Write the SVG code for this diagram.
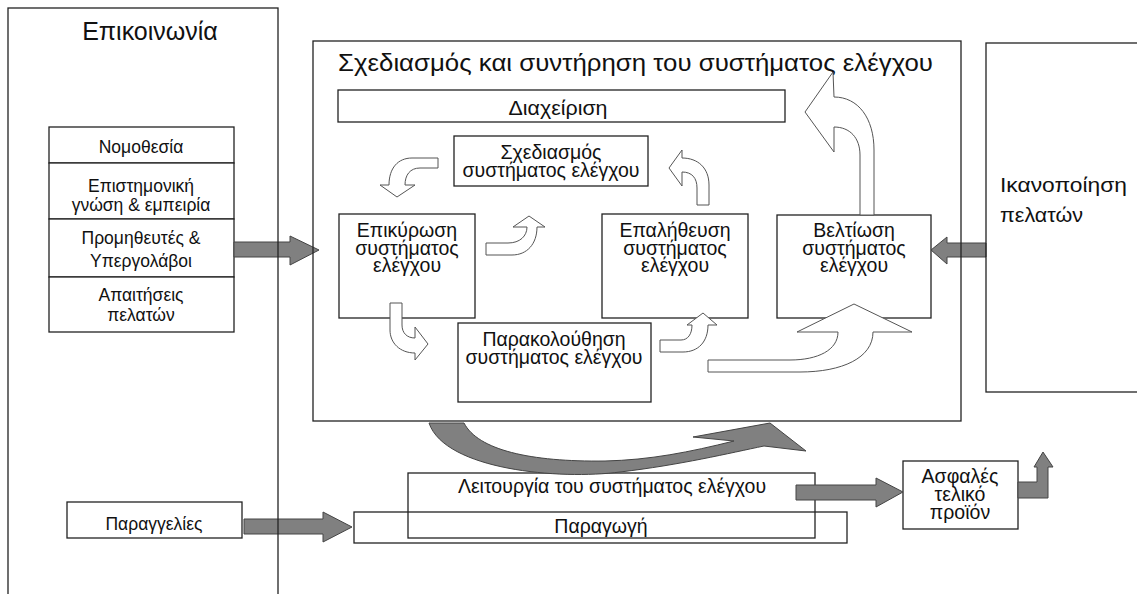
<svg xmlns="http://www.w3.org/2000/svg" width="1137" height="594" viewBox="0 0 1137 594">
  <style>
    text { font-family: "Liberation Sans", Arial, sans-serif; fill: #111; }
    .box { fill: #fff; stroke: #222; stroke-width: 1.3; }
    .frame { fill: none; stroke: #222; stroke-width: 1.3; }
    .c { text-anchor: middle; }
    .t17 { font-size: 17.5px; }
    .t19 { font-size: 19.5px; }
    .warrow { fill: #fff; stroke: #555; stroke-width: 1; stroke-linejoin: miter; }
    .garrow { fill: #808080; stroke: #444; stroke-width: 1; stroke-linejoin: miter; }
  </style>

  <rect width="1137" height="594" fill="#fff"/>

  <!-- left panel: communication -->
  <g id="communication">
    <text x="150" y="40" class="c" font-size="25">Επικοινωνία</text>
  </g>

  <g id="inputs">
    <rect class="box" x="49" y="127" width="185" height="36"/>
    <text x="141" y="153" class="c t17">Νομοθεσία</text>
    <rect class="box" x="49" y="163" width="185" height="56"/>
    <text x="141" y="192" class="c t17">Επιστημονική</text>
    <text x="141" y="211" class="c t17">γνώση &amp; εμπειρία</text>
    <rect class="box" x="49" y="219" width="185" height="58"/>
    <text x="141" y="244" class="c t17">Προμηθευτές &amp;</text>
    <text x="141" y="267" class="c t17">Υπεργολάβοι</text>
    <rect class="box" x="49" y="277" width="185" height="55"/>
    <text x="141" y="301" class="c t17">Απαιτήσεις</text>
    <text x="141" y="321" class="c t17">πελατών</text>
  </g>

  <g id="orders">
    <rect class="box" x="67" y="502" width="175" height="36"/>
    <text x="154" y="530" class="c t17">Παραγγελίες</text>
  </g>

  <!-- central process -->
  <g id="design-maintenance">
    <text x="338" y="71" font-size="23" textLength="595" lengthAdjust="spacingAndGlyphs">Σχεδιασμός και συντήρηση του συστήματος ελέγχου</text>
  </g>

  <g id="management">
    <rect class="box" x="338" y="90" width="447" height="32"/>
    <text x="558" y="115" class="c" font-size="19.5" textLength="99" lengthAdjust="spacingAndGlyphs">Διαχείριση</text>
  </g>

  <g id="design">
    <rect class="box" x="454" y="136" width="194" height="50"/>
    <text x="551" y="159" class="c t19">Σχεδιασμός</text>
    <text x="551" y="177" class="c t19">συστήματος ελέγχου</text>
  </g>

  <g id="validation">
    <rect class="box" x="339" y="214" width="136" height="104"/>
    <text x="407" y="237" class="c t19">Επικύρωση</text>
    <text x="407" y="255" class="c t19">συστήματος</text>
    <text x="407" y="272" class="c t19">ελέγχου</text>
  </g>

  <g id="verification">
    <rect class="box" x="602" y="214" width="146" height="104"/>
    <text x="675" y="237" class="c t19">Επαλήθευση</text>
    <text x="675" y="255" class="c t19">συστήματος</text>
    <text x="675" y="272" class="c t19">ελέγχου</text>
  </g>

  <g id="monitoring">
    <rect class="box" x="458" y="323" width="193" height="79"/>
    <text x="554" y="346" class="c t19">Παρακολούθηση</text>
    <text x="554" y="364" class="c t19">συστήματος ελέγχου</text>
  </g>

  <g id="improvement">
    <rect class="box" x="777" y="215" width="154" height="103"/>
    <text x="854" y="237" class="c t19">Βελτίωση</text>
    <text x="854" y="255" class="c t19">συστήματος</text>
    <text x="854" y="272" class="c t19">ελέγχου</text>
  </g>

  <g id="satisfaction">
    <text x="1000" y="192" font-size="21" textLength="127" lengthAdjust="spacingAndGlyphs">Ικανοποίηση</text>
    <text x="1000" y="222" font-size="21" textLength="83" lengthAdjust="spacingAndGlyphs">πελατών</text>
  </g>

  <g id="operation">
    <rect x="408" y="473" width="407" height="65" fill="none" stroke="#222" stroke-width="1.3"/>
    <text x="612" y="493" class="c t19">Λειτουργία του συστήματος ελέγχου</text>
  </g>

  <g id="production">
    <rect x="354" y="512" width="493" height="31" fill="none" stroke="#222" stroke-width="1.3"/>
    <text x="601" y="533" class="c t19">Παραγωγή</text>
  </g>

  <g id="safe-product">
    <rect class="box" x="903" y="461" width="115" height="68"/>
    <text x="960" y="483" class="c t19">Ασφαλές</text>
    <text x="960" y="501" class="c t19">τελικό</text>
    <text x="960" y="519" class="c t19">προϊόν</text>
  </g>

  <!-- connectors -->
  <g id="connectors">
    <!-- improvement cycle, outlined bent arrows -->
    <path class="warrow" d="M438,158 L412,158 C398,158 389,168 389,185 L380,185 L397,197 L415,185 L405,185 C405,175 410,168 420,168 L438,168 Z"/>
    <path class="warrow" d="M697,205 L697,188 C697,178 692,172 682,172 L682,186 L669,168 L682,150 L682,158 C698,158 709,168 709,185 L709,205 Z"/>
    <path class="warrow" d="M860,215 L860,155 C860,138 850,127 834,127 L834,152 L805,112 L833,72 L834,97 C858,97 874,118 874,150 L874,215 Z"/>
    <path class="warrow" d="M486,243 L508,243 C520,243 527,236 527,227 L513,227 L529,216 L545,227 L537,227 C537,244 527,255 512,255 L486,255 Z"/>
    <path class="warrow" d="M390,303 L402,303 L402,325 C402,333 407,338 415,338 L415,327 L428,344 L415,360 L415,353 C400,353 390,343 390,330 Z"/>
    <path class="warrow" d="M660,340 L681,340 C688,340 692,334 692,325 L687,325 L703,313 L717,325 L708,325 C708,342 698,352 683,352 L660,352 Z"/>
    <path class="warrow" d="M708,360 L790,360 C818,360 838,350 838,332 L797,332 L854,304 L912,332 L873,332 C873,358 842,372 800,372 L708,372 Z"/>

    <!-- solid grey flow arrows -->
    <polygon class="garrow" points="234,242 290,242 290,236 319,250 290,265 290,257 234,257"/>
    <polygon class="garrow" points="986,243 947,243 947,237 931,250 947,264 947,257 986,257"/>
    <polygon class="garrow" points="244,519 323,519 323,512 352,527 323,542 323,534 244,534"/>
    <polygon class="garrow" points="796,485 876,485 876,478 903,492 876,507 876,500 796,500"/>
    <polygon class="garrow" points="1018,482 1037,482 1037,467 1034,467 1043,452 1053,467 1048,467 1048,498 1018,498"/>
    <path class="garrow" d="M429,423 C445,470 560,480 620,472 C680,465 730,453 764,446 L806,451 L770,423 L693,437 L734,441 C690,452 650,460 605,461 C530,462 478,450 464,423 Z"/>
  </g>

  <!-- panel frames drawn last so their edges cross the arrows -->
  <g id="frames">
    <rect class="frame" x="8" y="8" width="270" height="600"/>
    <rect class="frame" x="313" y="41" width="648" height="380"/>
    <rect class="frame" x="986" y="43" width="200" height="349"/>
  </g>
</svg>
